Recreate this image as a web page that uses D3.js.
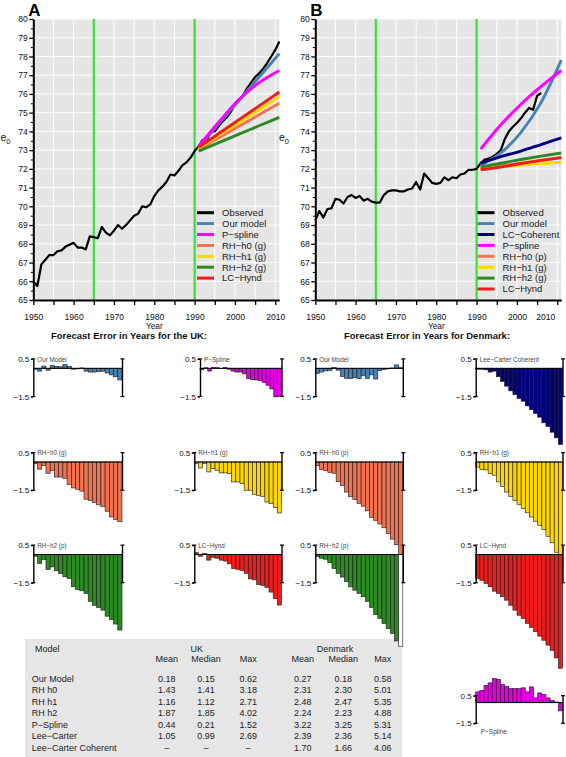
<!DOCTYPE html>
<html><head><meta charset="utf-8">
<script src="https://cdnjs.cloudflare.com/ajax/libs/d3/7.8.5/d3.min.js"></script>
<style>
body{margin:0;background:#fff}
svg{display:block}
text{font-family:"Liberation Sans",Arial,Helvetica,sans-serif}
</style>
</head><body>
<svg id="c" width="566" height="757"></svg>
<script>
// ---------------- DATA ----------------
const ukObsYears = d3.range(1950, 2012);
const ukObserved = [66.0,65.75,66.9,67.15,67.4,67.4,67.6,67.65,67.85,67.95,
  68.05,67.8,67.8,67.7,68.4,68.35,68.3,68.9,68.6,68.45,
  68.7,69.0,68.8,69.0,69.25,69.5,69.6,70.0,69.95,70.1,
  70.55,70.85,71.05,71.3,71.7,71.65,71.9,72.2,72.35,72.6,
  72.95,73.2,73.55,73.5,74.0,74.0,74.3,74.55,74.75,75.05,
  75.45,75.7,75.9,76.3,76.6,76.9,77.1,77.35,77.65,78.0,78.35,78.8];
const dkObsYears = d3.range(1950, 2007);
const dkObserved = [69.25,69.75,69.4,69.85,69.9,70.4,70.35,70.15,70.5,70.6,
  70.45,70.55,70.3,70.4,70.25,70.2,70.2,70.6,70.8,70.85,
  70.85,70.8,70.8,70.9,70.95,71.3,70.9,71.75,71.5,71.25,
  71.2,71.25,71.55,71.4,71.55,71.5,71.7,71.75,71.95,71.95,
  72.0,72.3,72.5,72.55,72.65,72.8,73.0,73.6,74.0,74.25,
  74.45,74.7,75.0,75.25,75.15,75.9,76.05];

const fcYears = [1991, 1996, 2001, 2006, 2011];
const ukOurModel = [73.15, 74.4, 75.65, 76.9, 78.15];
const ukPSpline  = [73.2, 74.5, 75.7, 76.6, 77.25];
const ukRHh0     = [73.05, 73.66, 74.28, 74.89, 75.5];
const ukRHh1     = [73.1, 73.79, 74.48, 75.16, 75.85];
const ukRHh2     = [72.95, 73.4, 73.85, 74.3, 74.75];
const ukLCHynd   = [73.15, 73.89, 74.63, 75.36, 76.1];

const dkOurModel = [72.2, 72.85, 73.95, 75.55, 77.8];
const dkLCCoh    = [72.3, 72.65, 72.95, 73.3, 73.65];
const dkPSpline  = [73.05, 74.35, 75.45, 76.4, 77.25];
const dkRHh0     = [72.0, 72.15, 72.3, 72.45, 72.6];
const dkRHh1     = [72.0, 72.1, 72.2, 72.28, 72.35];
const dkRHh2     = [72.1, 72.3, 72.5, 72.68, 72.85];
const dkLCHynd   = [71.95, 72.1, 72.28, 72.45, 72.6];

const yTicks = [65,66,67,68,69,70,71,72,73,74,75,76,77,78,79,80];
const xTicks = [1950,1955,1960,1965,1970,1975,1980,1985,1990,1995,2000,2005,2010];
const xLabelYears = [1950,1960,1970,1980,1990,2000,2010];
const markerYears = [1965, 1990];

// forecast errors, 1991-2011
const errYears = d3.range(1991, 2012);
const errTicks = [0.5, -1.5];
const ukOurModelErr = [-0.05,-0.15,0.12,-0.1,0.15,0.1,0.08,0.2,0.1,-0.05,-0.03,0.02,-0.15,-0.2,-0.2,-0.18,-0.15,-0.25,-0.35,-0.45,-0.62];
const ukPSplineErr  = [-0.08,0.03,-0.15,0.05,0.03,-0.02,0.05,-0.05,-0.15,-0.2,-0.2,-0.3,-0.55,-0.6,-0.62,-0.65,-0.75,-0.9,-1.1,-1.52,-1.5];
const ukRHh0Err     = [-0.09,-0.38,-0.18,-0.6,-0.45,-0.8,-0.8,-0.87,-1.2,-1.38,-1.45,-1.55,-1.98,-2.05,-2.15,-2.28,-2.38,-2.62,-2.92,-3.05,-3.18];
const ukRHh1Err     = [-0.09,-0.32,-0.09,-0.53,-0.35,-0.44,-0.58,-0.58,-0.62,-1.06,-1.06,-1.15,-1.5,-1.5,-1.72,-1.77,-1.83,-2.13,-2.22,-2.43,-2.71];
const ukRHh2Err     = [-0.09,-0.48,-0.27,-0.8,-0.66,-0.87,-1.01,-1.19,-1.28,-1.72,-1.86,-1.93,-2.07,-2.5,-2.7,-2.82,-2.96,-3.28,-3.46,-3.7,-4.02];
const ukLCHyndErr   = [0.1,-0.1,0.05,-0.3,-0.15,-0.2,-0.3,-0.35,-0.5,-0.75,-0.8,-0.85,-1.0,-1.3,-1.35,-1.6,-1.65,-1.75,-2.0,-2.35,-2.69];
const dkOurModelErr = [-0.27,-0.2,-0.14,-0.12,0.05,-0.1,-0.44,-0.53,-0.55,-0.5,-0.55,-0.4,-0.55,-0.35,-0.57,-0.12,-0.06,-0.03,0.02,0.18,0.03];
const dkLCCohErr    = [-0.05,-0.05,-0.08,-0.2,-0.15,-0.45,-0.7,-0.95,-1.2,-1.4,-1.6,-1.75,-2.0,-2.2,-2.4,-2.6,-2.9,-3.1,-3.4,-3.7,-4.06];
const dkRHh0Err     = [-0.2,-0.4,-0.45,-0.55,-0.6,-1.05,-1.25,-1.6,-1.85,-2.0,-2.2,-2.35,-2.6,-2.95,-3.1,-3.3,-3.5,-3.8,-4.1,-4.4,-5.01];
const dkRHh1Err     = [-0.27,-0.4,-0.42,-0.62,-0.7,-1.06,-1.3,-1.6,-1.83,-2.04,-2.25,-2.48,-2.7,-2.93,-3.15,-3.37,-3.6,-3.95,-4.3,-4.8,-5.35];
const dkRHh2Err     = [-0.12,-0.2,-0.25,-0.44,-0.75,-1.0,-1.2,-1.45,-1.72,-1.9,-2.07,-2.25,-2.5,-2.82,-3.2,-3.4,-3.67,-3.94,-4.2,-4.6,-4.88];
const dkLCHyndErr   = [-1.28,-1.37,-1.54,-1.72,-1.95,-2.07,-2.25,-2.43,-2.7,-2.96,-3.23,-3.4,-3.67,-3.88,-4.11,-4.34,-4.56,-4.82,-5.1,-5.5,-6.05];
const dkPSplineErr  = [0.78,0.89,1.25,1.43,1.74,1.69,1.3,1.18,1.01,1.01,1.01,1.07,0.78,1.14,0.34,0.7,0.58,0.34,0.17,0.05,-0.6];

// summary table
const tableModels = ["Our Model","RH h0","RH h1","RH h2","P\u2212Spline","Lee\u2212Carter","Lee\u2212Carter Coherent"];
const ukMean   = [0.18,1.43,1.16,1.87,0.44,1.05,null];
const ukMedian = [0.15,1.41,1.12,1.85,0.21,0.99,null];
const ukMax    = [0.62,3.18,2.71,4.02,1.52,2.69,null];
const dkMean   = [0.27,2.31,2.48,2.24,3.22,2.39,1.70];
const dkMedian = [0.18,2.30,2.47,2.23,3.25,2.36,1.66];
const dkMax    = [0.58,5.01,5.35,4.88,5.31,5.14,4.06];

// ---------------- STYLE ----------------
const C = {
  obs: "#000000", our: "#4682B4", psp: "#FF00FF", pspBar: "#E000E0",
  rh0: "#F2714F", rh1: "#FFD700", rh2: "#2B8A22", lch: "#EE1C1C",
  lcc: "#000080", green: "#38E038", bg: "#E5E5E5"
};

const svg = d3.select("#c");

// ---------------- TOP PANELS ----------------
function drawTop(p) {
  const g = svg.append("g");
  const x = d3.scaleLinear().domain([1950, 2011]).range([p.left, p.right]);
  const y = d3.scaleLinear().domain([65, 80]).range([300, 19]);
  g.append("rect").attr("x", p.left).attr("y", y(80))
    .attr("width", p.right - p.left).attr("height", y(65) - y(80)).attr("fill", C.bg);
  g.selectAll(".vg").data(xTicks.slice(1)).join("line")
    .attr("x1", d => x(d)).attr("x2", d => x(d)).attr("y1", y(80)).attr("y2", y(65))
    .attr("stroke", "#fff").attr("stroke-width", 1);
  g.selectAll(".hg").data(yTicks.slice(1)).join("line")
    .attr("x1", p.left).attr("x2", p.right).attr("y1", d => y(d)).attr("y2", d => y(d))
    .attr("stroke", "#fff").attr("stroke-width", 1);
  g.selectAll(".gm").data(markerYears).join("line")
    .attr("x1", d => x(d)).attr("x2", d => x(d)).attr("y1", y(80)).attr("y2", y(65))
    .attr("stroke", C.green).attr("stroke-width", 2.2);

  const obsLine = d3.line().x((d, i) => x(p.obsYears[i])).y(d => y(d));
  g.append("path").attr("d", obsLine(p.observed)).attr("fill", "none")
    .attr("stroke", C.obs).attr("stroke-width", 2.2).attr("stroke-linejoin", "round");
  const fcLine = d3.line().x((d, i) => x(fcYears[i])).y(d => y(d)).curve(d3.curveMonotoneX);
  p.series.forEach(s => {
    g.append("path").attr("d", fcLine(s.values)).attr("fill", "none")
      .attr("stroke", s.color).attr("stroke-width", 2.9).attr("stroke-linecap", "butt");
  });

  // legend
  const items = [{name: "Observed", color: C.obs}].concat(p.series);
  items.forEach((s, i) => {
    const ly = 212.7 + i * 10.9;
    g.append("line").attr("x1", p.legX).attr("x2", p.legX + 17).attr("y1", ly).attr("y2", ly)
      .attr("stroke", s.color).attr("stroke-width", 3);
    g.append("text").attr("x", p.legX + 25).attr("y", ly).attr("dy", "0.35em")
      .attr("font-size", 9.5).attr("fill", "#1a1a1a").text(s.name);
  });

  // axes
  const ya = g.append("g").attr("transform", `translate(${p.left},0)`)
    .call(d3.axisLeft(y).tickValues(yTicks).tickSize(4).tickSizeOuter(0).tickPadding(1.5).tickFormat(d3.format("d")));
  ya.selectAll("text").attr("font-size", 8.6).attr("font-family", '"Liberation Sans",Arial,sans-serif').attr("fill", "#111");
  ya.select(".domain").attr("stroke-width", 2);
  ya.selectAll(".tick line").attr("stroke-width", 1.3);
  const yMinor = g.append("g").attr("transform", `translate(${p.left},0)`)
    .call(d3.axisLeft(y).tickValues(yTicks.slice(0, -1).map(v => v + 0.5)).tickSize(2.5).tickFormat(""));
  yMinor.select(".domain").remove();
  yMinor.selectAll(".tick line").attr("stroke-width", 1);

  const xa = g.append("g").attr("transform", `translate(0,300)`)
    .call(d3.axisBottom(x).tickValues(xTicks).tickSize(5).tickSizeOuter(0).tickPadding(9)
      .tickFormat(d => xLabelYears.includes(d) ? String(d) : ""));
  xa.selectAll("text").attr("font-size", 8.6).attr("font-family", '"Liberation Sans",Arial,sans-serif').attr("fill", "#111");
  xa.select(".domain").attr("stroke-width", 2);
  xa.selectAll(".tick line").attr("stroke-width", 1.3);
  if (p.shiftLast) {
    xa.selectAll(".tick text").filter(d => d === 2010).attr("text-anchor", "end").attr("x", p.shiftLast);
  }

  g.append("text").attr("x", x(1980)).attr("y", 328.8).attr("text-anchor", "middle")
    .attr("font-size", 8.3).attr("fill", "#111").text("Year");
  const e = g.append("text").attr("x", p.ylabX).attr("y", 141).attr("font-size", 10.5).attr("fill", "#111");
  e.append("tspan").text("e");
  e.append("tspan").attr("dy", 3).attr("font-size", 7.5).text("0");
  g.append("text").attr("x", p.left - 5).attr("y", 15.5).attr("font-size", 17)
    .attr("font-weight", "bold").attr("fill", "#000").text(p.tag);
  g.append("text").attr("x", p.titleX).attr("y", 338.5).attr("text-anchor", "middle")
    .attr("font-size", 9.5).attr("font-weight", "bold").attr("fill", "#111").text(p.title);
}

drawTop({
  left: 33.3, right: 279.3, tag: "A", legX: 197, ylabX: 0.5, titleX: 129,
  title: "Forecast Error in Years for the UK:",
  obsYears: ukObsYears, observed: ukObserved,
  series: [
    {name: "Our model", color: C.our, values: ukOurModel},
    {name: "P\u2212spline", color: C.psp, values: ukPSpline},
    {name: "RH\u2212h0 (g)", color: C.rh0, values: ukRHh0},
    {name: "RH\u2212h1 (g)", color: C.rh1, values: ukRHh1},
    {name: "RH\u2212h2 (g)", color: C.rh2, values: ukRHh2},
    {name: "LC\u2212Hynd", color: C.lch, values: ukLCHynd}
  ]
});
drawTop({
  left: 315.3, right: 561.3, tag: "B", legX: 477.5, ylabX: 279, titleX: 427, shiftLast: -2.5,
  title: "Forecast Error in Years for Denmark:",
  obsYears: dkObsYears, observed: dkObserved,
  series: [
    {name: "Our model", color: C.our, values: dkOurModel},
    {name: "LC\u2212Coherent", color: C.lcc, values: dkLCCoh},
    {name: "P\u2212spline", color: C.psp, values: dkPSpline},
    {name: "RH\u2212h0 (p)", color: C.rh0, values: dkRHh0},
    {name: "RH\u2212h1 (g)", color: C.rh1, values: dkRHh1},
    {name: "RH\u2212h2 (g)", color: C.rh2, values: dkRHh2},
    {name: "LC\u2212Hynd", color: C.lch, values: dkLCHynd}
  ]
});

// ---------------- TABLE ----------------
(function drawTable() {
  const g = svg.append("g");
  g.append("rect").attr("x", 25).attr("y", 639).attr("width", 377).attr("height", 118).attr("fill", "#E6E6E6");
  const fs = 9, col = "#222";
  const t = (x, y, s, anchor) => g.append("text").attr("x", x).attr("y", y).attr("font-size", fs)
    .attr("fill", col).attr("text-anchor", anchor || "start").text(s);
  t(35, 651.5, "Model");
  t(196.7, 651.5, "UK", "middle");
  t(335, 651.5, "Denmark", "middle");
  const cols = [
    {x: 166.7, h: "Mean", v: ukMean}, {x: 206, h: "Median", v: ukMedian}, {x: 248.3, h: "Max", v: ukMax},
    {x: 302.7, h: "Mean", v: dkMean}, {x: 343.3, h: "Median", v: dkMedian}, {x: 382.7, h: "Max", v: dkMax}
  ];
  cols.forEach(c => t(c.x, 661.5, c.h, "middle"));
  const fmt = d3.format(".2f");
  tableModels.forEach((m, i) => {
    const yy = 681.5 + i * 11.5;
    t(31.7, yy, m);
    cols.forEach(c => t(c.x, yy, c.v[i] == null ? "\u2013" : fmt(c.v[i]), "middle"));
  });
})();

// ---------------- ERROR PANELS ----------------
function drawErr(p) {
  const g = svg.append("g");
  const top = p.top !== undefined ? p.top : p.zero - 9.4;
  const bottom = p.bottom !== undefined ? p.bottom : p.zero + 28.2;
  const y = d3.scaleLinear().domain([-1.5, 0.5]).range([bottom, top]);
  const x = d3.scaleBand().domain(errYears).range([p.x0, p.x1 - 0.5]).padding(0);
  g.selectAll("rect").data(p.values).join("rect")
    .attr("x", (d, i) => x(errYears[i])).attr("width", x.bandwidth())
    .attr("y", d => Math.min(y(d), y(0))).attr("height", d => Math.abs(y(d) - y(0)))
    .attr("fill", (d, i) => (p.lastFill && i === p.values.length - 1) ? p.lastFill : p.color)
    .attr("stroke", "#1a1a1a").attr("stroke-width", 0.6);
  g.append("line").attr("x1", p.x0).attr("x2", p.x1).attr("y1", y(0)).attr("y2", y(0))
    .attr("stroke", "#000").attr("stroke-width", 1);
  const ax = g.append("g").attr("transform", `translate(${p.x0},0)`)
    .call(d3.axisLeft(y).tickValues(errTicks).tickSize(2.5).tickSizeOuter(0).tickPadding(1.5).tickFormat(d3.format(".1f")));
  ax.selectAll("text").attr("font-size", 8).attr("font-family", '"Liberation Sans",Arial,sans-serif').attr("fill", "#111");
  ax.select(".domain").attr("stroke-width", 1.4);
  ax.selectAll(".tick line").attr("stroke-width", 1.2);
  // right bracket
  g.append("line").attr("x1", p.x1).attr("x2", p.x1).attr("y1", y(0.5)).attr("y2", y(-1.5))
    .attr("stroke", "#000").attr("stroke-width", 1.4);
  [p.x0, p.x1].forEach(xx => {
    [0.5, -1.5].forEach(v => {
      g.append("line").attr("x1", xx - 2).attr("x2", xx + 2).attr("y1", y(v)).attr("y2", y(v))
        .attr("stroke", "#000").attr("stroke-width", 1.2);
    });
  });
  if (p.labelBelow) {
    g.append("text").attr("x", p.x0 + 5).attr("y", 734).attr("font-size", 6.5).attr("fill", "#444").text(p.name);
  } else {
    g.append("text").attr("x", p.x0 + 4).attr("y", top + 2.6).attr("font-size", 6.3).attr("fill", "#444").text(p.name);
  }
}

const R1 = 368.3, R2 = 462, R3 = 554.5;
const panels = [
  {name: "Our Model", values: ukOurModelErr, color: C.our, x0: 33.3, x1: 122.5, zero: R1},
  {name: "P\u2212Spline", values: ukPSplineErr, color: C.pspBar, x0: 200, x1: 282, zero: R1},
  {name: "RH\u2212h0 (g)", values: ukRHh0Err, color: C.rh0, x0: 33.3, x1: 122.5, zero: R2},
  {name: "RH\u2212h1 (g)", values: ukRHh1Err, color: C.rh1, x0: 194.3, x1: 282, zero: R2},
  {name: "RH\u2212h2 (p)", values: ukRHh2Err, color: C.rh2, x0: 33.3, x1: 122.5, zero: R3},
  {name: "LC\u2212Hynd", values: ukLCHyndErr, color: C.lch, x0: 194.3, x1: 282, zero: R3},
  {name: "Our Model", values: dkOurModelErr, color: C.our, x0: 315.3, x1: 403.3, zero: R1},
  {name: "Lee\u2212Carter Coherent", values: dkLCCohErr, color: C.lcc, x0: 475.7, x1: 563, zero: R1},
  {name: "RH\u2212h0 (p)", values: dkRHh0Err, color: C.rh0, x0: 315.3, x1: 403.3, zero: R2},
  {name: "RH\u2212h1 (g)", values: dkRHh1Err, color: C.rh1, x0: 475.7, x1: 563, zero: R2},
  {name: "RH\u2212h2 (p)", values: dkRHh2Err, color: C.rh2, x0: 315.3, x1: 403.3, zero: R3, lastFill: "#ffffff"},
  {name: "LC\u2212Hynd", values: dkLCHyndErr, color: C.lch, x0: 475.7, x1: 563, zero: R3},
  {name: "P\u2212Spline", values: dkPSplineErr, color: C.pspBar, x0: 475.7, x1: 563, top: 695.7, bottom: 723.3, labelBelow: true}
];
panels.forEach(drawErr);
</script>
</body></html>
